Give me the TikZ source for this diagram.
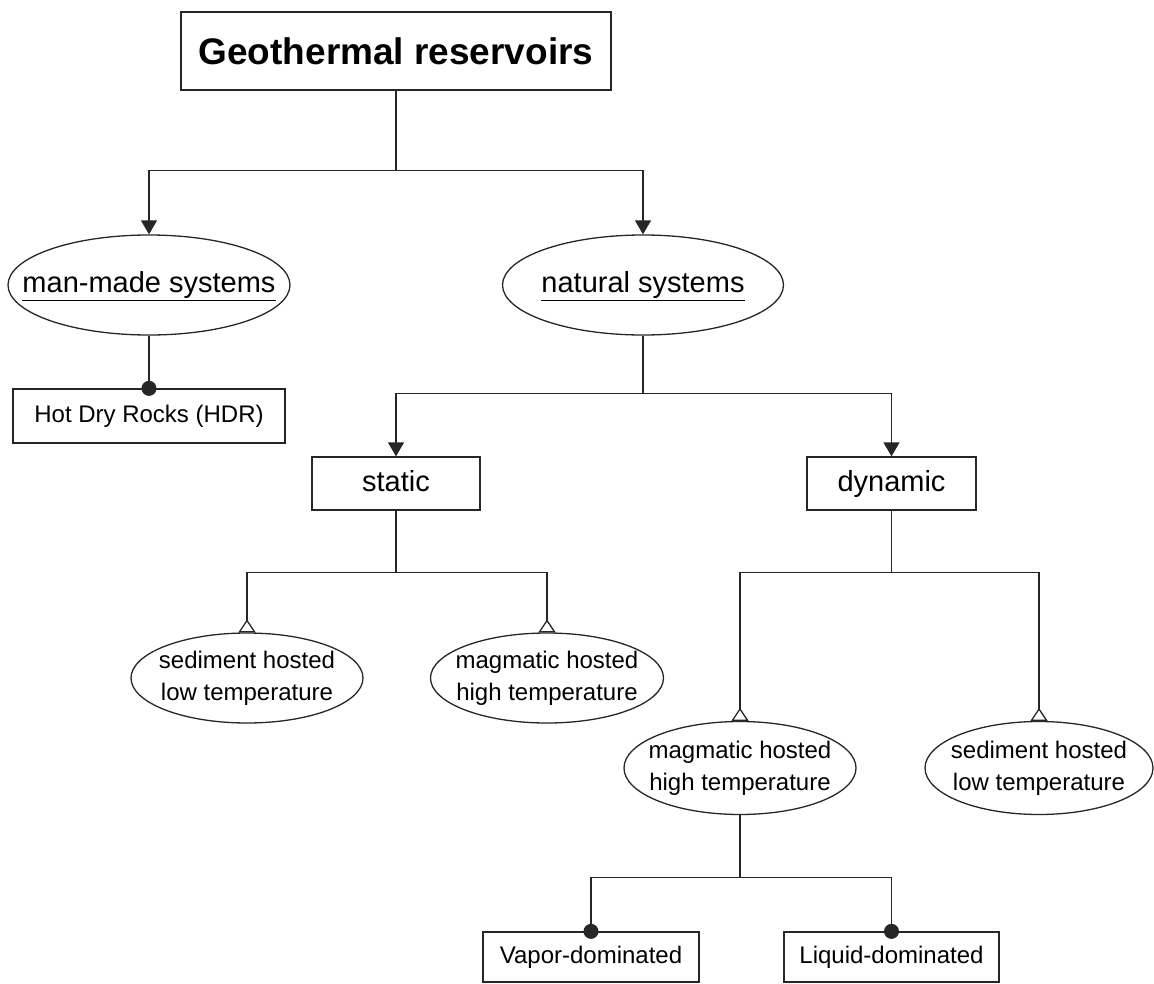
\documentclass[tikz,border=0pt]{standalone}
\usepackage{fontspec}
\setmainfont{Liberation Sans}
\usetikzlibrary{shapes.geometric,arrows.meta}
\begin{document}
\begin{tikzpicture}[x=1pt,y=-1pt,
  line width=1.3pt, draw=black!85,
  boxnode/.style={draw, rectangle, inner sep=0pt, align=center},
  ellnode/.style={draw, ellipse, inner sep=0pt},
  txt/.style={inner sep=0pt, align=center},
  big/.style={font=\fontsize{29}{34}\selectfont, text height=21pt, text depth=6pt},
  small/.style={font=\fontsize{24}{32}\selectfont},
  smallone/.style={small, text height=17pt, text depth=5pt},
  arr/.style={-{Triangle[width=16pt,length=14pt]}},
  opentip/.style={-{Triangle[open,reversed,width=17pt,length=13pt,fill=white]}},
  dottip/.style={-{Circle[length=15pt]}, shorten >=-7.5pt}
]
\useasboundingbox (0,0) rectangle (1154,983);

\node[boxnode, minimum width=430pt, minimum height=78pt,
      font=\fontsize{37}{42}\selectfont\bfseries] (title) at (396,51) {Geothermal reservoirs};

\node[ellnode, minimum width=282pt, minimum height=100pt] (mm) at (149,285) {};
\node[txt, big] (mmt) at (mm.center) {\underline{man-made systems}};
\node[ellnode, minimum width=281pt, minimum height=100pt] (nat) at (643,285) {};
\node[txt, big] (natt) at (nat.center) {\underline{natural systems}};

\node[boxnode, smallone, minimum width=272pt, minimum height=54pt] (hdr) at (149,416) {Hot Dry Rocks (HDR)};

\node[boxnode, big, minimum width=168pt, minimum height=53pt] (static) at (396,483.5) {static};
\node[boxnode, big, minimum width=169pt, minimum height=53pt] (dyn) at (891.5,483.5) {dynamic};

\node[ellnode, minimum width=232pt, minimum height=90pt] (sed1) at (247,678) {};
\node[txt, small] (sed1t) at (sed1.center) {sediment hosted\\low temperature};
\node[ellnode, minimum width=233pt, minimum height=90pt] (mag1) at (547,678) {};
\node[txt, small] (mag1t) at (mag1.center) {magmatic hosted\\high temperature};
\node[ellnode, minimum width=232pt, minimum height=93pt] (mag2) at (740,768) {};
\node[txt, small] (mag2t) at (mag2.center) {magmatic hosted\\high temperature};
\node[ellnode, minimum width=228pt, minimum height=93pt] (sed2) at (1039,768) {};
\node[txt, small] (sed2t) at (sed2.center) {sediment hosted\\low temperature};

\node[boxnode, smallone, minimum width=216pt, minimum height=50pt] (vap) at (591,957) {Vapor-dominated};
\node[boxnode, smallone, minimum width=215pt, minimum height=50pt] (liq) at (891.5,957) {Liquid-dominated};

% connectors
\draw[arr] (title.south) -- ++(0,80) -| (mm.north);
\draw[arr] (title.south) -- ++(0,80) -| (nat.north);
\draw[dottip] (mm.south) -- (hdr.north);
\draw[arr] (nat.south) -- ++(0,58) -| (static.north);
\draw[arr] (nat.south) -- ++(0,58) -| (dyn.north);
\draw[opentip] (static.south) -- ++(0,62) -| (sed1.north);
\draw[opentip] (static.south) -- ++(0,62) -| (mag1.north);
\draw[opentip] (dyn.south) -- ++(0,62) -| (mag2.north);
\draw[opentip] (dyn.south) -- ++(0,62) -| (sed2.north);
\draw[dottip] (mag2.south) -- ++(0,62) -| (vap.north);
\draw[dottip] (mag2.south) -- ++(0,62) -| (liq.north);
\end{tikzpicture}
\end{document}
